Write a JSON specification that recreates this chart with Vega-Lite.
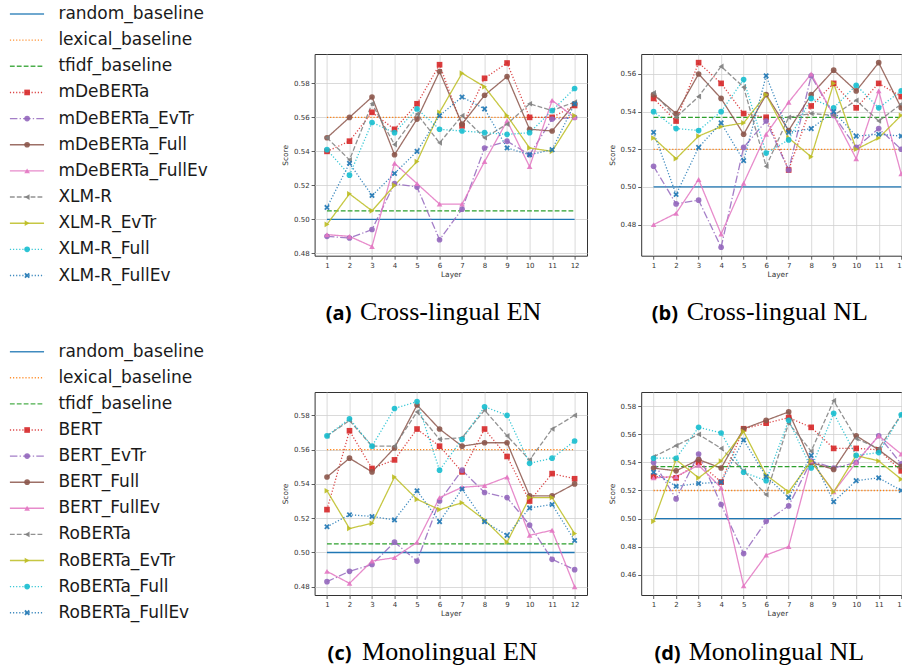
{
"$schema": "https://vega.github.io/schema/vega-lite/v6.json",
"background": "white",
"padding": {"left": 0, "top": 5, "right": 0, "bottom": 0},
"columns": 3,
"spacing": {"row": 136, "column": 53.6},
"bounds": "flush",
"resolve": {"scale": {"color": "independent", "shape": "independent", "strokeDash": "independent", "x": "independent", "y": "independent"}},
"config": {
  "font": "DejaVu Sans",
  "view": {"stroke": "#333333", "strokeWidth": 1},
  "axis": {"labelFont": "DejaVu Sans", "labelFontSize": 7, "labelColor": "#333333", "titleFont": "DejaVu Sans", "titleFontSize": 7.4, "titleFontWeight": "normal", "titleColor": "#333333", "tickColor": "#333333", "tickSize": 3.5, "tickWidth": 0.8, "domain": false, "gridColor": "#d0d0d0", "gridWidth": 0.8, "labelFlush": false, "labelOverlap": false, "labelPadding": 2, "tickCount": 30}
},
"datasets": {
  "legendTop": [{"series": "random_baseline"}, {"series": "lexical_baseline"}, {"series": "tfidf_baseline"}, {"series": "mDeBERTa"}, {"series": "mDeBERTa_EvTr"}, {"series": "mDeBERTa_Full"}, {"series": "mDeBERTa_FullEv"}, {"series": "XLM-R"}, {"series": "XLM-R_EvTr"}, {"series": "XLM-R_Full"}, {"series": "XLM-R_FullEv"}],
  "legendBottom": [{"series": "random_baseline"}, {"series": "lexical_baseline"}, {"series": "tfidf_baseline"}, {"series": "BERT"}, {"series": "BERT_EvTr"}, {"series": "BERT_Full"}, {"series": "BERT_FullEv"}, {"series": "RoBERTa"}, {"series": "RoBERTa_EvTr"}, {"series": "RoBERTa_Full"}, {"series": "RoBERTa_FullEv"}],
  "baseEN": [{"series": "random_baseline", "layer": 1, "score": 0.5}, {"series": "random_baseline", "layer": 12, "score": 0.5}, {"series": "lexical_baseline", "layer": 1, "score": 0.56}, {"series": "lexical_baseline", "layer": 12, "score": 0.56}, {"series": "tfidf_baseline", "layer": 1, "score": 0.505}, {"series": "tfidf_baseline", "layer": 12, "score": 0.505}],
  "baseNL": [{"series": "random_baseline", "layer": 1, "score": 0.5}, {"series": "random_baseline", "layer": 12, "score": 0.5}, {"series": "lexical_baseline", "layer": 1, "score": 0.52}, {"series": "lexical_baseline", "layer": 12, "score": 0.52}, {"series": "tfidf_baseline", "layer": 1, "score": 0.537}, {"series": "tfidf_baseline", "layer": 12, "score": 0.537}],
  "a": [
    {"series": "mDeBERTa", "layer": 1, "score": 0.540}, {"series": "mDeBERTa", "layer": 2, "score": 0.546}, {"series": "mDeBERTa", "layer": 3, "score": 0.563}, {"series": "mDeBERTa", "layer": 4, "score": 0.553}, {"series": "mDeBERTa", "layer": 5, "score": 0.568}, {"series": "mDeBERTa", "layer": 6, "score": 0.591}, {"series": "mDeBERTa", "layer": 7, "score": 0.555}, {"series": "mDeBERTa", "layer": 8, "score": 0.583}, {"series": "mDeBERTa", "layer": 9, "score": 0.592}, {"series": "mDeBERTa", "layer": 10, "score": 0.560}, {"series": "mDeBERTa", "layer": 11, "score": 0.560}, {"series": "mDeBERTa", "layer": 12, "score": 0.567},
    {"series": "mDeBERTa_EvTr", "layer": 1, "score": 0.490}, {"series": "mDeBERTa_EvTr", "layer": 2, "score": 0.489}, {"series": "mDeBERTa_EvTr", "layer": 3, "score": 0.494}, {"series": "mDeBERTa_EvTr", "layer": 4, "score": 0.521}, {"series": "mDeBERTa_EvTr", "layer": 5, "score": 0.519}, {"series": "mDeBERTa_EvTr", "layer": 6, "score": 0.488}, {"series": "mDeBERTa_EvTr", "layer": 7, "score": 0.506}, {"series": "mDeBERTa_EvTr", "layer": 8, "score": 0.542}, {"series": "mDeBERTa_EvTr", "layer": 9, "score": 0.546}, {"series": "mDeBERTa_EvTr", "layer": 10, "score": 0.538}, {"series": "mDeBERTa_EvTr", "layer": 11, "score": 0.559}, {"series": "mDeBERTa_EvTr", "layer": 12, "score": 0.560},
    {"series": "mDeBERTa_Full", "layer": 1, "score": 0.548}, {"series": "mDeBERTa_Full", "layer": 2, "score": 0.560}, {"series": "mDeBERTa_Full", "layer": 3, "score": 0.572}, {"series": "mDeBERTa_Full", "layer": 4, "score": 0.538}, {"series": "mDeBERTa_Full", "layer": 5, "score": 0.559}, {"series": "mDeBERTa_Full", "layer": 6, "score": 0.587}, {"series": "mDeBERTa_Full", "layer": 7, "score": 0.556}, {"series": "mDeBERTa_Full", "layer": 8, "score": 0.573}, {"series": "mDeBERTa_Full", "layer": 9, "score": 0.584}, {"series": "mDeBERTa_Full", "layer": 10, "score": 0.553}, {"series": "mDeBERTa_Full", "layer": 11, "score": 0.552}, {"series": "mDeBERTa_Full", "layer": 12, "score": 0.568},
    {"series": "mDeBERTa_FullEv", "layer": 1, "score": 0.491}, {"series": "mDeBERTa_FullEv", "layer": 2, "score": 0.490}, {"series": "mDeBERTa_FullEv", "layer": 3, "score": 0.484}, {"series": "mDeBERTa_FullEv", "layer": 4, "score": 0.533}, {"series": "mDeBERTa_FullEv", "layer": 5, "score": 0.521}, {"series": "mDeBERTa_FullEv", "layer": 6, "score": 0.509}, {"series": "mDeBERTa_FullEv", "layer": 7, "score": 0.509}, {"series": "mDeBERTa_FullEv", "layer": 8, "score": 0.534}, {"series": "mDeBERTa_FullEv", "layer": 9, "score": 0.558}, {"series": "mDeBERTa_FullEv", "layer": 10, "score": 0.531}, {"series": "mDeBERTa_FullEv", "layer": 11, "score": 0.570}, {"series": "mDeBERTa_FullEv", "layer": 12, "score": 0.560},
    {"series": "XLM-R", "layer": 1, "score": 0.548}, {"series": "XLM-R", "layer": 2, "score": 0.535}, {"series": "XLM-R", "layer": 3, "score": 0.568}, {"series": "XLM-R", "layer": 4, "score": 0.544}, {"series": "XLM-R", "layer": 5, "score": 0.562}, {"series": "XLM-R", "layer": 6, "score": 0.545}, {"series": "XLM-R", "layer": 7, "score": 0.561}, {"series": "XLM-R", "layer": 8, "score": 0.548}, {"series": "XLM-R", "layer": 9, "score": 0.556}, {"series": "XLM-R", "layer": 10, "score": 0.568}, {"series": "XLM-R", "layer": 11, "score": 0.564}, {"series": "XLM-R", "layer": 12, "score": 0.569},
    {"series": "XLM-R_EvTr", "layer": 1, "score": 0.497}, {"series": "XLM-R_EvTr", "layer": 2, "score": 0.515}, {"series": "XLM-R_EvTr", "layer": 3, "score": 0.505}, {"series": "XLM-R_EvTr", "layer": 4, "score": 0.520}, {"series": "XLM-R_EvTr", "layer": 5, "score": 0.534}, {"series": "XLM-R_EvTr", "layer": 6, "score": 0.563}, {"series": "XLM-R_EvTr", "layer": 7, "score": 0.586}, {"series": "XLM-R_EvTr", "layer": 8, "score": 0.578}, {"series": "XLM-R_EvTr", "layer": 9, "score": 0.561}, {"series": "XLM-R_EvTr", "layer": 10, "score": 0.542}, {"series": "XLM-R_EvTr", "layer": 11, "score": 0.540}, {"series": "XLM-R_EvTr", "layer": 12, "score": 0.561},
    {"series": "XLM-R_Full", "layer": 1, "score": 0.541}, {"series": "XLM-R_Full", "layer": 2, "score": 0.526}, {"series": "XLM-R_Full", "layer": 3, "score": 0.557}, {"series": "XLM-R_Full", "layer": 4, "score": 0.551}, {"series": "XLM-R_Full", "layer": 5, "score": 0.565}, {"series": "XLM-R_Full", "layer": 6, "score": 0.553}, {"series": "XLM-R_Full", "layer": 7, "score": 0.552}, {"series": "XLM-R_Full", "layer": 8, "score": 0.551}, {"series": "XLM-R_Full", "layer": 9, "score": 0.550}, {"series": "XLM-R_Full", "layer": 10, "score": 0.551}, {"series": "XLM-R_Full", "layer": 11, "score": 0.564}, {"series": "XLM-R_Full", "layer": 12, "score": 0.577},
    {"series": "XLM-R_FullEv", "layer": 1, "score": 0.507}, {"series": "XLM-R_FullEv", "layer": 2, "score": 0.533}, {"series": "XLM-R_FullEv", "layer": 3, "score": 0.514}, {"series": "XLM-R_FullEv", "layer": 4, "score": 0.527}, {"series": "XLM-R_FullEv", "layer": 5, "score": 0.540}, {"series": "XLM-R_FullEv", "layer": 6, "score": 0.561}, {"series": "XLM-R_FullEv", "layer": 7, "score": 0.572}, {"series": "XLM-R_FullEv", "layer": 8, "score": 0.565}, {"series": "XLM-R_FullEv", "layer": 9, "score": 0.542}, {"series": "XLM-R_FullEv", "layer": 10, "score": 0.538}, {"series": "XLM-R_FullEv", "layer": 11, "score": 0.541}, {"series": "XLM-R_FullEv", "layer": 12, "score": 0.568}
  ],
  "b": [
    {"series": "mDeBERTa", "layer": 1, "score": 0.547}, {"series": "mDeBERTa", "layer": 2, "score": 0.535}, {"series": "mDeBERTa", "layer": 3, "score": 0.566}, {"series": "mDeBERTa", "layer": 4, "score": 0.555}, {"series": "mDeBERTa", "layer": 5, "score": 0.539}, {"series": "mDeBERTa", "layer": 6, "score": 0.537}, {"series": "mDeBERTa", "layer": 7, "score": 0.509}, {"series": "mDeBERTa", "layer": 8, "score": 0.543}, {"series": "mDeBERTa", "layer": 9, "score": 0.555}, {"series": "mDeBERTa", "layer": 10, "score": 0.542}, {"series": "mDeBERTa", "layer": 11, "score": 0.555}, {"series": "mDeBERTa", "layer": 12, "score": 0.548},
    {"series": "mDeBERTa_EvTr", "layer": 1, "score": 0.511}, {"series": "mDeBERTa_EvTr", "layer": 2, "score": 0.491}, {"series": "mDeBERTa_EvTr", "layer": 3, "score": 0.493}, {"series": "mDeBERTa_EvTr", "layer": 4, "score": 0.468}, {"series": "mDeBERTa_EvTr", "layer": 5, "score": 0.521}, {"series": "mDeBERTa_EvTr", "layer": 6, "score": 0.535}, {"series": "mDeBERTa_EvTr", "layer": 7, "score": 0.509}, {"series": "mDeBERTa_EvTr", "layer": 8, "score": 0.559}, {"series": "mDeBERTa_EvTr", "layer": 9, "score": 0.538}, {"series": "mDeBERTa_EvTr", "layer": 10, "score": 0.521}, {"series": "mDeBERTa_EvTr", "layer": 11, "score": 0.531}, {"series": "mDeBERTa_EvTr", "layer": 12, "score": 0.520},
    {"series": "mDeBERTa_Full", "layer": 1, "score": 0.549}, {"series": "mDeBERTa_Full", "layer": 2, "score": 0.539}, {"series": "mDeBERTa_Full", "layer": 3, "score": 0.560}, {"series": "mDeBERTa_Full", "layer": 4, "score": 0.547}, {"series": "mDeBERTa_Full", "layer": 5, "score": 0.528}, {"series": "mDeBERTa_Full", "layer": 6, "score": 0.549}, {"series": "mDeBERTa_Full", "layer": 7, "score": 0.530}, {"series": "mDeBERTa_Full", "layer": 8, "score": 0.549}, {"series": "mDeBERTa_Full", "layer": 9, "score": 0.562}, {"series": "mDeBERTa_Full", "layer": 10, "score": 0.551}, {"series": "mDeBERTa_Full", "layer": 11, "score": 0.566}, {"series": "mDeBERTa_Full", "layer": 12, "score": 0.542},
    {"series": "mDeBERTa_FullEv", "layer": 1, "score": 0.480}, {"series": "mDeBERTa_FullEv", "layer": 2, "score": 0.486}, {"series": "mDeBERTa_FullEv", "layer": 3, "score": 0.504}, {"series": "mDeBERTa_FullEv", "layer": 4, "score": 0.475}, {"series": "mDeBERTa_FullEv", "layer": 5, "score": 0.502}, {"series": "mDeBERTa_FullEv", "layer": 6, "score": 0.528}, {"series": "mDeBERTa_FullEv", "layer": 7, "score": 0.545}, {"series": "mDeBERTa_FullEv", "layer": 8, "score": 0.560}, {"series": "mDeBERTa_FullEv", "layer": 9, "score": 0.538}, {"series": "mDeBERTa_FullEv", "layer": 10, "score": 0.515}, {"series": "mDeBERTa_FullEv", "layer": 11, "score": 0.551}, {"series": "mDeBERTa_FullEv", "layer": 12, "score": 0.507},
    {"series": "XLM-R", "layer": 1, "score": 0.550}, {"series": "XLM-R", "layer": 2, "score": 0.537}, {"series": "XLM-R", "layer": 3, "score": 0.548}, {"series": "XLM-R", "layer": 4, "score": 0.564}, {"series": "XLM-R", "layer": 5, "score": 0.553}, {"series": "XLM-R", "layer": 6, "score": 0.511}, {"series": "XLM-R", "layer": 7, "score": 0.537}, {"series": "XLM-R", "layer": 8, "score": 0.539}, {"series": "XLM-R", "layer": 9, "score": 0.538}, {"series": "XLM-R", "layer": 10, "score": 0.546}, {"series": "XLM-R", "layer": 11, "score": 0.535}, {"series": "XLM-R", "layer": 12, "score": 0.544},
    {"series": "XLM-R_EvTr", "layer": 1, "score": 0.526}, {"series": "XLM-R_EvTr", "layer": 2, "score": 0.515}, {"series": "XLM-R_EvTr", "layer": 3, "score": 0.527}, {"series": "XLM-R_EvTr", "layer": 4, "score": 0.532}, {"series": "XLM-R_EvTr", "layer": 5, "score": 0.534}, {"series": "XLM-R_EvTr", "layer": 6, "score": 0.549}, {"series": "XLM-R_EvTr", "layer": 7, "score": 0.526}, {"series": "XLM-R_EvTr", "layer": 8, "score": 0.516}, {"series": "XLM-R_EvTr", "layer": 9, "score": 0.555}, {"series": "XLM-R_EvTr", "layer": 10, "score": 0.520}, {"series": "XLM-R_EvTr", "layer": 11, "score": 0.526}, {"series": "XLM-R_EvTr", "layer": 12, "score": 0.538},
    {"series": "XLM-R_Full", "layer": 1, "score": 0.540}, {"series": "XLM-R_Full", "layer": 2, "score": 0.531}, {"series": "XLM-R_Full", "layer": 3, "score": 0.530}, {"series": "XLM-R_Full", "layer": 4, "score": 0.540}, {"series": "XLM-R_Full", "layer": 5, "score": 0.557}, {"series": "XLM-R_Full", "layer": 6, "score": 0.518}, {"series": "XLM-R_Full", "layer": 7, "score": 0.525}, {"series": "XLM-R_Full", "layer": 8, "score": 0.547}, {"series": "XLM-R_Full", "layer": 9, "score": 0.542}, {"series": "XLM-R_Full", "layer": 10, "score": 0.554}, {"series": "XLM-R_Full", "layer": 11, "score": 0.542}, {"series": "XLM-R_Full", "layer": 12, "score": 0.551},
    {"series": "XLM-R_FullEv", "layer": 1, "score": 0.529}, {"series": "XLM-R_FullEv", "layer": 2, "score": 0.496}, {"series": "XLM-R_FullEv", "layer": 3, "score": 0.521}, {"series": "XLM-R_FullEv", "layer": 4, "score": 0.534}, {"series": "XLM-R_FullEv", "layer": 5, "score": 0.514}, {"series": "XLM-R_FullEv", "layer": 6, "score": 0.559}, {"series": "XLM-R_FullEv", "layer": 7, "score": 0.529}, {"series": "XLM-R_FullEv", "layer": 8, "score": 0.531}, {"series": "XLM-R_FullEv", "layer": 9, "score": 0.540}, {"series": "XLM-R_FullEv", "layer": 10, "score": 0.527}, {"series": "XLM-R_FullEv", "layer": 11, "score": 0.528}, {"series": "XLM-R_FullEv", "layer": 12, "score": 0.527}
  ],
  "c": [
    {"series": "BERT", "layer": 1, "score": 0.525}, {"series": "BERT", "layer": 2, "score": 0.571}, {"series": "BERT", "layer": 3, "score": 0.549}, {"series": "BERT", "layer": 4, "score": 0.554}, {"series": "BERT", "layer": 5, "score": 0.572}, {"series": "BERT", "layer": 6, "score": 0.562}, {"series": "BERT", "layer": 7, "score": 0.547}, {"series": "BERT", "layer": 8, "score": 0.572}, {"series": "BERT", "layer": 9, "score": 0.556}, {"series": "BERT", "layer": 10, "score": 0.530}, {"series": "BERT", "layer": 11, "score": 0.546}, {"series": "BERT", "layer": 12, "score": 0.543},
    {"series": "BERT_EvTr", "layer": 1, "score": 0.483}, {"series": "BERT_EvTr", "layer": 2, "score": 0.489}, {"series": "BERT_EvTr", "layer": 3, "score": 0.493}, {"series": "BERT_EvTr", "layer": 4, "score": 0.506}, {"series": "BERT_EvTr", "layer": 5, "score": 0.495}, {"series": "BERT_EvTr", "layer": 6, "score": 0.530}, {"series": "BERT_EvTr", "layer": 7, "score": 0.548}, {"series": "BERT_EvTr", "layer": 8, "score": 0.535}, {"series": "BERT_EvTr", "layer": 9, "score": 0.532}, {"series": "BERT_EvTr", "layer": 10, "score": 0.516}, {"series": "BERT_EvTr", "layer": 11, "score": 0.496}, {"series": "BERT_EvTr", "layer": 12, "score": 0.490},
    {"series": "BERT_Full", "layer": 1, "score": 0.544}, {"series": "BERT_Full", "layer": 2, "score": 0.555}, {"series": "BERT_Full", "layer": 3, "score": 0.547}, {"series": "BERT_Full", "layer": 4, "score": 0.561}, {"series": "BERT_Full", "layer": 5, "score": 0.586}, {"series": "BERT_Full", "layer": 6, "score": 0.572}, {"series": "BERT_Full", "layer": 7, "score": 0.562}, {"series": "BERT_Full", "layer": 8, "score": 0.564}, {"series": "BERT_Full", "layer": 9, "score": 0.564}, {"series": "BERT_Full", "layer": 10, "score": 0.533}, {"series": "BERT_Full", "layer": 11, "score": 0.533}, {"series": "BERT_Full", "layer": 12, "score": 0.540},
    {"series": "BERT_FullEv", "layer": 1, "score": 0.489}, {"series": "BERT_FullEv", "layer": 2, "score": 0.482}, {"series": "BERT_FullEv", "layer": 3, "score": 0.495}, {"series": "BERT_FullEv", "layer": 4, "score": 0.497}, {"series": "BERT_FullEv", "layer": 5, "score": 0.506}, {"series": "BERT_FullEv", "layer": 6, "score": 0.532}, {"series": "BERT_FullEv", "layer": 7, "score": 0.538}, {"series": "BERT_FullEv", "layer": 8, "score": 0.539}, {"series": "BERT_FullEv", "layer": 9, "score": 0.544}, {"series": "BERT_FullEv", "layer": 10, "score": 0.510}, {"series": "BERT_FullEv", "layer": 11, "score": 0.513}, {"series": "BERT_FullEv", "layer": 12, "score": 0.480},
    {"series": "RoBERTa", "layer": 1, "score": 0.568}, {"series": "RoBERTa", "layer": 2, "score": 0.577}, {"series": "RoBERTa", "layer": 3, "score": 0.562}, {"series": "RoBERTa", "layer": 4, "score": 0.562}, {"series": "RoBERTa", "layer": 5, "score": 0.582}, {"series": "RoBERTa", "layer": 6, "score": 0.566}, {"series": "RoBERTa", "layer": 7, "score": 0.567}, {"series": "RoBERTa", "layer": 8, "score": 0.583}, {"series": "RoBERTa", "layer": 9, "score": 0.568}, {"series": "RoBERTa", "layer": 10, "score": 0.554}, {"series": "RoBERTa", "layer": 11, "score": 0.572}, {"series": "RoBERTa", "layer": 12, "score": 0.580},
    {"series": "RoBERTa_EvTr", "layer": 1, "score": 0.536}, {"series": "RoBERTa_EvTr", "layer": 2, "score": 0.514}, {"series": "RoBERTa_EvTr", "layer": 3, "score": 0.517}, {"series": "RoBERTa_EvTr", "layer": 4, "score": 0.544}, {"series": "RoBERTa_EvTr", "layer": 5, "score": 0.531}, {"series": "RoBERTa_EvTr", "layer": 6, "score": 0.525}, {"series": "RoBERTa_EvTr", "layer": 7, "score": 0.529}, {"series": "RoBERTa_EvTr", "layer": 8, "score": 0.519}, {"series": "RoBERTa_EvTr", "layer": 9, "score": 0.506}, {"series": "RoBERTa_EvTr", "layer": 10, "score": 0.532}, {"series": "RoBERTa_EvTr", "layer": 11, "score": 0.532}, {"series": "RoBERTa_EvTr", "layer": 12, "score": 0.511},
    {"series": "RoBERTa_Full", "layer": 1, "score": 0.568}, {"series": "RoBERTa_Full", "layer": 2, "score": 0.578}, {"series": "RoBERTa_Full", "layer": 3, "score": 0.562}, {"series": "RoBERTa_Full", "layer": 4, "score": 0.584}, {"series": "RoBERTa_Full", "layer": 5, "score": 0.588}, {"series": "RoBERTa_Full", "layer": 6, "score": 0.548}, {"series": "RoBERTa_Full", "layer": 7, "score": 0.566}, {"series": "RoBERTa_Full", "layer": 8, "score": 0.585}, {"series": "RoBERTa_Full", "layer": 9, "score": 0.580}, {"series": "RoBERTa_Full", "layer": 10, "score": 0.552}, {"series": "RoBERTa_Full", "layer": 11, "score": 0.555}, {"series": "RoBERTa_Full", "layer": 12, "score": 0.565},
    {"series": "RoBERTa_FullEv", "layer": 1, "score": 0.515}, {"series": "RoBERTa_FullEv", "layer": 2, "score": 0.522}, {"series": "RoBERTa_FullEv", "layer": 3, "score": 0.521}, {"series": "RoBERTa_FullEv", "layer": 4, "score": 0.519}, {"series": "RoBERTa_FullEv", "layer": 5, "score": 0.536}, {"series": "RoBERTa_FullEv", "layer": 6, "score": 0.518}, {"series": "RoBERTa_FullEv", "layer": 7, "score": 0.537}, {"series": "RoBERTa_FullEv", "layer": 8, "score": 0.518}, {"series": "RoBERTa_FullEv", "layer": 9, "score": 0.510}, {"series": "RoBERTa_FullEv", "layer": 10, "score": 0.526}, {"series": "RoBERTa_FullEv", "layer": 11, "score": 0.528}, {"series": "RoBERTa_FullEv", "layer": 12, "score": 0.507}
  ],
  "d": [
    {"series": "BERT", "layer": 1, "score": 0.530}, {"series": "BERT", "layer": 2, "score": 0.529}, {"series": "BERT", "layer": 3, "score": 0.540}, {"series": "BERT", "layer": 4, "score": 0.526}, {"series": "BERT", "layer": 5, "score": 0.564}, {"series": "BERT", "layer": 6, "score": 0.568}, {"series": "BERT", "layer": 7, "score": 0.572}, {"series": "BERT", "layer": 8, "score": 0.565}, {"series": "BERT", "layer": 9, "score": 0.550}, {"series": "BERT", "layer": 10, "score": 0.550}, {"series": "BERT", "layer": 11, "score": 0.549}, {"series": "BERT", "layer": 12, "score": 0.534},
    {"series": "BERT_EvTr", "layer": 1, "score": 0.540}, {"series": "BERT_EvTr", "layer": 2, "score": 0.514}, {"series": "BERT_EvTr", "layer": 3, "score": 0.546}, {"series": "BERT_EvTr", "layer": 4, "score": 0.510}, {"series": "BERT_EvTr", "layer": 5, "score": 0.475}, {"series": "BERT_EvTr", "layer": 6, "score": 0.498}, {"series": "BERT_EvTr", "layer": 7, "score": 0.509}, {"series": "BERT_EvTr", "layer": 8, "score": 0.541}, {"series": "BERT_EvTr", "layer": 9, "score": 0.536}, {"series": "BERT_EvTr", "layer": 10, "score": 0.540}, {"series": "BERT_EvTr", "layer": 11, "score": 0.559}, {"series": "BERT_EvTr", "layer": 12, "score": 0.539},
    {"series": "BERT_Full", "layer": 1, "score": 0.536}, {"series": "BERT_Full", "layer": 2, "score": 0.534}, {"series": "BERT_Full", "layer": 3, "score": 0.542}, {"series": "BERT_Full", "layer": 4, "score": 0.536}, {"series": "BERT_Full", "layer": 5, "score": 0.564}, {"series": "BERT_Full", "layer": 6, "score": 0.570}, {"series": "BERT_Full", "layer": 7, "score": 0.576}, {"series": "BERT_Full", "layer": 8, "score": 0.540}, {"series": "BERT_Full", "layer": 9, "score": 0.535}, {"series": "BERT_Full", "layer": 10, "score": 0.559}, {"series": "BERT_Full", "layer": 11, "score": 0.549}, {"series": "BERT_Full", "layer": 12, "score": 0.537},
    {"series": "BERT_FullEv", "layer": 1, "score": 0.529}, {"series": "BERT_FullEv", "layer": 2, "score": 0.530}, {"series": "BERT_FullEv", "layer": 3, "score": 0.538}, {"series": "BERT_FullEv", "layer": 4, "score": 0.522}, {"series": "BERT_FullEv", "layer": 5, "score": 0.452}, {"series": "BERT_FullEv", "layer": 6, "score": 0.474}, {"series": "BERT_FullEv", "layer": 7, "score": 0.480}, {"series": "BERT_FullEv", "layer": 8, "score": 0.541}, {"series": "BERT_FullEv", "layer": 9, "score": 0.519}, {"series": "BERT_FullEv", "layer": 10, "score": 0.540}, {"series": "BERT_FullEv", "layer": 11, "score": 0.559}, {"series": "BERT_FullEv", "layer": 12, "score": 0.546},
    {"series": "RoBERTa", "layer": 1, "score": 0.544}, {"series": "RoBERTa", "layer": 2, "score": 0.552}, {"series": "RoBERTa", "layer": 3, "score": 0.560}, {"series": "RoBERTa", "layer": 4, "score": 0.550}, {"series": "RoBERTa", "layer": 5, "score": 0.534}, {"series": "RoBERTa", "layer": 6, "score": 0.517}, {"series": "RoBERTa", "layer": 7, "score": 0.568}, {"series": "RoBERTa", "layer": 8, "score": 0.548}, {"series": "RoBERTa", "layer": 9, "score": 0.584}, {"series": "RoBERTa", "layer": 10, "score": 0.557}, {"series": "RoBERTa", "layer": 11, "score": 0.550}, {"series": "RoBERTa", "layer": 12, "score": 0.574},
    {"series": "RoBERTa_EvTr", "layer": 1, "score": 0.498}, {"series": "RoBERTa_EvTr", "layer": 2, "score": 0.542}, {"series": "RoBERTa_EvTr", "layer": 3, "score": 0.529}, {"series": "RoBERTa_EvTr", "layer": 4, "score": 0.541}, {"series": "RoBERTa_EvTr", "layer": 5, "score": 0.562}, {"series": "RoBERTa_EvTr", "layer": 6, "score": 0.531}, {"series": "RoBERTa_EvTr", "layer": 7, "score": 0.519}, {"series": "RoBERTa_EvTr", "layer": 8, "score": 0.541}, {"series": "RoBERTa_EvTr", "layer": 9, "score": 0.519}, {"series": "RoBERTa_EvTr", "layer": 10, "score": 0.545}, {"series": "RoBERTa_EvTr", "layer": 11, "score": 0.541}, {"series": "RoBERTa_EvTr", "layer": 12, "score": 0.528},
    {"series": "RoBERTa_Full", "layer": 1, "score": 0.543}, {"series": "RoBERTa_Full", "layer": 2, "score": 0.543}, {"series": "RoBERTa_Full", "layer": 3, "score": 0.565}, {"series": "RoBERTa_Full", "layer": 4, "score": 0.561}, {"series": "RoBERTa_Full", "layer": 5, "score": 0.533}, {"series": "RoBERTa_Full", "layer": 6, "score": 0.527}, {"series": "RoBERTa_Full", "layer": 7, "score": 0.570}, {"series": "RoBERTa_Full", "layer": 8, "score": 0.536}, {"series": "RoBERTa_Full", "layer": 9, "score": 0.575}, {"series": "RoBERTa_Full", "layer": 10, "score": 0.545}, {"series": "RoBERTa_Full", "layer": 11, "score": 0.547}, {"series": "RoBERTa_Full", "layer": 12, "score": 0.574},
    {"series": "RoBERTa_FullEv", "layer": 1, "score": 0.533}, {"series": "RoBERTa_FullEv", "layer": 2, "score": 0.523}, {"series": "RoBERTa_FullEv", "layer": 3, "score": 0.525}, {"series": "RoBERTa_FullEv", "layer": 4, "score": 0.526}, {"series": "RoBERTa_FullEv", "layer": 5, "score": 0.556}, {"series": "RoBERTa_FullEv", "layer": 6, "score": 0.530}, {"series": "RoBERTa_FullEv", "layer": 7, "score": 0.515}, {"series": "RoBERTa_FullEv", "layer": 8, "score": 0.545}, {"series": "RoBERTa_FullEv", "layer": 9, "score": 0.512}, {"series": "RoBERTa_FullEv", "layer": 10, "score": 0.527}, {"series": "RoBERTa_FullEv", "layer": 11, "score": 0.529}, {"series": "RoBERTa_FullEv", "layer": 12, "score": 0.520}
  ]
},
"concat": [
  {
    "width": 260.7, "height": 201.7,
    "view": {"stroke": null},
    "data": {"name": "legendTop"},
    "layer": [
      {"mark": {"type": "rule", "strokeWidth": 1.4, "opacity": 0.85},
       "encoding": {
         "x": {"datum": 3.8, "type": "quantitative", "scale": {"domain": [0, 100], "nice": false}, "axis": null},
         "x2": {"datum": 16.9},
         "y": {"field": "series", "type": "nominal", "scale": {"type": "point", "domain": ["random_baseline", "lexical_baseline", "tfidf_baseline", "mDeBERTa", "mDeBERTa_EvTr", "mDeBERTa_Full", "mDeBERTa_FullEv", "XLM-R", "XLM-R_EvTr", "XLM-R_Full", "XLM-R_FullEv"], "range": [-40, 221.5], "padding": 0}, "axis": null},
         "color": {"field": "series", "type": "nominal", "scale": {"domain": ["random_baseline", "lexical_baseline", "tfidf_baseline", "mDeBERTa", "mDeBERTa_EvTr", "mDeBERTa_Full", "mDeBERTa_FullEv", "XLM-R", "XLM-R_EvTr", "XLM-R_Full", "XLM-R_FullEv"], "range": ["#1f77b4", "#ff7f0e", "#2ca02c", "#d62728", "#9467bd", "#8c564b", "#e377c2", "#7f7f7f", "#bcbd22", "#17becf", "#1f77b4"]}, "legend": null},
         "strokeDash": {"field": "series", "type": "nominal", "scale": {"domain": ["random_baseline", "lexical_baseline", "tfidf_baseline", "mDeBERTa", "mDeBERTa_EvTr", "mDeBERTa_Full", "mDeBERTa_FullEv", "XLM-R", "XLM-R_EvTr", "XLM-R_Full", "XLM-R_FullEv"], "range": [[1, 0], [1.2, 1.9], [4.8, 2.1], [1.2, 1.9], [7.5, 2.2, 1.3, 2.2], [1, 0], [1, 0], [4.8, 2.1], [1, 0], [1.2, 1.9], [1.2, 1.9]]}, "legend": null}
       }},
      {"transform": [{"filter": {"not": {"field": "series", "oneOf": ["random_baseline", "lexical_baseline", "tfidf_baseline"]}}}],
       "mark": {"type": "point", "filled": true, "size": 32, "opacity": 0.9},
       "encoding": {
         "x": {"datum": 10.4, "type": "quantitative"},
         "y": {"field": "series", "type": "nominal"},
         "color": {"field": "series", "type": "nominal", "legend": null},
         "shape": {"field": "series", "type": "nominal", "scale": {"domain": ["mDeBERTa", "mDeBERTa_EvTr", "mDeBERTa_Full", "mDeBERTa_FullEv", "XLM-R", "XLM-R_EvTr", "XLM-R_Full", "XLM-R_FullEv"], "range": ["square", "circle", "circle", "triangle-up", "triangle-left", "triangle-right", "circle", "M-1,-0.55L-0.55,-1L0,-0.45L0.55,-1L1,-0.55L0.45,0L1,0.55L0.55,1L0,0.45L-0.55,1L-1,0.55L-0.45,0Z"]}, "legend": null}
       }},
      {"mark": {"type": "text", "align": "left", "baseline": "middle", "font": "DejaVu Sans", "fontSize": 17, "color": "#1a1a1a"},
       "encoding": {
         "x": {"datum": 22.4, "type": "quantitative"},
         "y": {"field": "series", "type": "nominal"},
         "text": {"field": "series"}
       }}
    ]
  },
  {
    "width": 272.4, "height": 201.7,
    "data": {"name": "a"},
    "layer": [
      {"layer": [
        {"data": {"name": "baseEN"},
         "mark": {"type": "line", "strokeWidth": 1.3},
         "encoding": {
           "x": {"field": "layer", "type": "quantitative", "scale": {"domain": [0.45, 12.55], "nice": false, "zero": false}, "axis": {"values": [1, 2, 3, 4, 5, 6, 7, 8, 9, 10, 11, 12], "format": "d", "tickCount": 30, "title": "Layer", "grid": true, "titlePadding": 2, "labelOverlap": false}},
           "y": {"field": "score", "type": "quantitative", "scale": {"domain": [0.4786, 0.5973], "nice": false, "zero": false}, "axis": {"values": [0.48, 0.5, 0.52, 0.54, 0.56, 0.58], "tickCount": 30, "format": ".2f", "title": "Score", "grid": true, "titlePadding": 4, "labelOverlap": false}},
           "color": {"field": "series", "type": "nominal", "scale": {"domain": ["random_baseline", "lexical_baseline", "tfidf_baseline", "mDeBERTa", "mDeBERTa_EvTr", "mDeBERTa_Full", "mDeBERTa_FullEv", "XLM-R", "XLM-R_EvTr", "XLM-R_Full", "XLM-R_FullEv"], "range": ["#1f77b4", "#ff7f0e", "#2ca02c", "#d62728", "#9467bd", "#8c564b", "#e377c2", "#7f7f7f", "#bcbd22", "#17becf", "#1f77b4"]}, "legend": null},
           "strokeDash": {"field": "series", "type": "nominal", "scale": {"domain": ["random_baseline", "lexical_baseline", "tfidf_baseline", "mDeBERTa", "mDeBERTa_EvTr", "mDeBERTa_Full", "mDeBERTa_FullEv", "XLM-R", "XLM-R_EvTr", "XLM-R_Full", "XLM-R_FullEv"], "range": [[1, 0], [1.2, 1.9], [4.8, 2.1], [1.2, 1.9], [7.5, 2.2, 1.3, 2.2], [1, 0], [1, 0], [4.8, 2.1], [1, 0], [1.2, 1.9], [1.2, 1.9]]}, "legend": null}
         }},
        {"mark": {"type": "line", "strokeWidth": 1.3, "opacity": 0.85},
         "encoding": {
           "x": {"field": "layer", "type": "quantitative"},
           "y": {"field": "score", "type": "quantitative"},
           "color": {"field": "series", "type": "nominal", "legend": null},
           "strokeDash": {"field": "series", "type": "nominal", "legend": null}
         }}
      ]},
      {"mark": {"type": "point", "filled": true, "size": 32, "opacity": 0.9},
       "encoding": {
         "x": {"field": "layer", "type": "quantitative", "scale": {"domain": [0.45, 12.55], "nice": false, "zero": false}, "axis": {"orient": "top", "labels": false, "ticks": false, "grid": false, "domain": false, "title": "Cross-lingual EN", "titleFont": "Liberation Serif", "titleFontSize": 26, "titleFontWeight": "normal", "titleColor": "#000000", "titleAngle": 0, "titleAlign": "left", "titleBaseline": "alphabetic", "titleX": 45, "titleY": 265.7}},
         "y": {"field": "score", "type": "quantitative", "scale": {"domain": [0.4786, 0.5973], "nice": false, "zero": false}, "axis": {"orient": "right", "labels": false, "ticks": false, "grid": false, "domain": false, "title": "(a)", "titleFont": "Open Sans", "titleFontSize": 20, "titleFontWeight": "bold", "titleColor": "#000000", "titleAngle": 0, "titleAlign": "left", "titleBaseline": "alphabetic", "titleX": -261.7, "titleY": 265.7}},
         "color": {"field": "series", "type": "nominal", "legend": null},
         "shape": {"field": "series", "type": "nominal", "scale": {"domain": ["mDeBERTa", "mDeBERTa_EvTr", "mDeBERTa_Full", "mDeBERTa_FullEv", "XLM-R", "XLM-R_EvTr", "XLM-R_Full", "XLM-R_FullEv"], "range": ["square", "circle", "circle", "triangle-up", "triangle-left", "triangle-right", "circle", "M-1,-0.55L-0.55,-1L0,-0.45L0.55,-1L1,-0.55L0.45,0L1,0.55L0.55,1L0,0.45L-0.55,1L-1,0.55L-0.45,0Z"]}, "legend": null}
       }}
    ],
    "resolve": {"scale": {"x": "independent", "y": "independent"}}
  },
  {
    "width": 272.4, "height": 201.7,
    "data": {"name": "b"},
    "layer": [
      {"layer": [
        {"data": {"name": "baseNL"},
         "mark": {"type": "line", "strokeWidth": 1.3},
         "encoding": {
           "x": {"field": "layer", "type": "quantitative", "scale": {"domain": [0.45, 12.55], "nice": false, "zero": false}, "axis": {"values": [1, 2, 3, 4, 5, 6, 7, 8, 9, 10, 11, 12], "format": "d", "tickCount": 30, "title": "Layer", "grid": true, "titlePadding": 2, "labelOverlap": false}},
           "y": {"field": "score", "type": "quantitative", "scale": {"domain": [0.4635, 0.5706], "nice": false, "zero": false}, "axis": {"values": [0.48, 0.5, 0.52, 0.54, 0.56], "tickCount": 30, "format": ".2f", "title": "Score", "grid": true, "titlePadding": 4, "labelOverlap": false}},
           "color": {"field": "series", "type": "nominal", "scale": {"domain": ["random_baseline", "lexical_baseline", "tfidf_baseline", "mDeBERTa", "mDeBERTa_EvTr", "mDeBERTa_Full", "mDeBERTa_FullEv", "XLM-R", "XLM-R_EvTr", "XLM-R_Full", "XLM-R_FullEv"], "range": ["#1f77b4", "#ff7f0e", "#2ca02c", "#d62728", "#9467bd", "#8c564b", "#e377c2", "#7f7f7f", "#bcbd22", "#17becf", "#1f77b4"]}, "legend": null},
           "strokeDash": {"field": "series", "type": "nominal", "scale": {"domain": ["random_baseline", "lexical_baseline", "tfidf_baseline", "mDeBERTa", "mDeBERTa_EvTr", "mDeBERTa_Full", "mDeBERTa_FullEv", "XLM-R", "XLM-R_EvTr", "XLM-R_Full", "XLM-R_FullEv"], "range": [[1, 0], [1.2, 1.9], [4.8, 2.1], [1.2, 1.9], [7.5, 2.2, 1.3, 2.2], [1, 0], [1, 0], [4.8, 2.1], [1, 0], [1.2, 1.9], [1.2, 1.9]]}, "legend": null}
         }},
        {"mark": {"type": "line", "strokeWidth": 1.3, "opacity": 0.85},
         "encoding": {
           "x": {"field": "layer", "type": "quantitative"},
           "y": {"field": "score", "type": "quantitative"},
           "color": {"field": "series", "type": "nominal", "legend": null},
           "strokeDash": {"field": "series", "type": "nominal", "legend": null}
         }}
      ]},
      {"mark": {"type": "point", "filled": true, "size": 32, "opacity": 0.9},
       "encoding": {
         "x": {"field": "layer", "type": "quantitative", "scale": {"domain": [0.45, 12.55], "nice": false, "zero": false}, "axis": {"orient": "top", "labels": false, "ticks": false, "grid": false, "domain": false, "title": "Cross-lingual NL", "titleFont": "Liberation Serif", "titleFontSize": 26, "titleFontWeight": "normal", "titleColor": "#000000", "titleAngle": 0, "titleAlign": "left", "titleBaseline": "alphabetic", "titleX": 45, "titleY": 265.7}},
         "y": {"field": "score", "type": "quantitative", "scale": {"domain": [0.4635, 0.5706], "nice": false, "zero": false}, "axis": {"orient": "right", "labels": false, "ticks": false, "grid": false, "domain": false, "title": "(b)", "titleFont": "Open Sans", "titleFontSize": 20, "titleFontWeight": "bold", "titleColor": "#000000", "titleAngle": 0, "titleAlign": "left", "titleBaseline": "alphabetic", "titleX": -262.4, "titleY": 265.7}},
         "color": {"field": "series", "type": "nominal", "legend": null},
         "shape": {"field": "series", "type": "nominal", "scale": {"domain": ["mDeBERTa", "mDeBERTa_EvTr", "mDeBERTa_Full", "mDeBERTa_FullEv", "XLM-R", "XLM-R_EvTr", "XLM-R_Full", "XLM-R_FullEv"], "range": ["square", "circle", "circle", "triangle-up", "triangle-left", "triangle-right", "circle", "M-1,-0.55L-0.55,-1L0,-0.45L0.55,-1L1,-0.55L0.45,0L1,0.55L0.55,1L0,0.45L-0.55,1L-1,0.55L-0.45,0Z"]}, "legend": null}
       }}
    ],
    "resolve": {"scale": {"x": "independent", "y": "independent"}}
  },
  {
    "width": 260.7, "height": 203,
    "view": {"stroke": null},
    "data": {"name": "legendBottom"},
    "layer": [
      {"mark": {"type": "rule", "strokeWidth": 1.4, "opacity": 0.85},
       "encoding": {
         "x": {"datum": 3.8, "type": "quantitative", "scale": {"domain": [0, 100], "nice": false}, "axis": null},
         "x2": {"datum": 16.9},
         "y": {"field": "series", "type": "nominal", "scale": {"type": "point", "domain": ["random_baseline", "lexical_baseline", "tfidf_baseline", "BERT", "BERT_EvTr", "BERT_Full", "BERT_FullEv", "RoBERTa", "RoBERTa_EvTr", "RoBERTa_Full", "RoBERTa_FullEv"], "range": [-40.3, 220.7], "padding": 0}, "axis": null},
         "color": {"field": "series", "type": "nominal", "scale": {"domain": ["random_baseline", "lexical_baseline", "tfidf_baseline", "BERT", "BERT_EvTr", "BERT_Full", "BERT_FullEv", "RoBERTa", "RoBERTa_EvTr", "RoBERTa_Full", "RoBERTa_FullEv"], "range": ["#1f77b4", "#ff7f0e", "#2ca02c", "#d62728", "#9467bd", "#8c564b", "#e377c2", "#7f7f7f", "#bcbd22", "#17becf", "#1f77b4"]}, "legend": null},
         "strokeDash": {"field": "series", "type": "nominal", "scale": {"domain": ["random_baseline", "lexical_baseline", "tfidf_baseline", "BERT", "BERT_EvTr", "BERT_Full", "BERT_FullEv", "RoBERTa", "RoBERTa_EvTr", "RoBERTa_Full", "RoBERTa_FullEv"], "range": [[1, 0], [1.2, 1.9], [4.8, 2.1], [1.2, 1.9], [7.5, 2.2, 1.3, 2.2], [1, 0], [1, 0], [4.8, 2.1], [1, 0], [1.2, 1.9], [1.2, 1.9]]}, "legend": null}
       }},
      {"transform": [{"filter": {"not": {"field": "series", "oneOf": ["random_baseline", "lexical_baseline", "tfidf_baseline"]}}}],
       "mark": {"type": "point", "filled": true, "size": 32, "opacity": 0.9},
       "encoding": {
         "x": {"datum": 10.4, "type": "quantitative"},
         "y": {"field": "series", "type": "nominal"},
         "color": {"field": "series", "type": "nominal", "legend": null},
         "shape": {"field": "series", "type": "nominal", "scale": {"domain": ["BERT", "BERT_EvTr", "BERT_Full", "BERT_FullEv", "RoBERTa", "RoBERTa_EvTr", "RoBERTa_Full", "RoBERTa_FullEv"], "range": ["square", "circle", "circle", "triangle-up", "triangle-left", "triangle-right", "circle", "M-1,-0.55L-0.55,-1L0,-0.45L0.55,-1L1,-0.55L0.45,0L1,0.55L0.55,1L0,0.45L-0.55,1L-1,0.55L-0.45,0Z"]}, "legend": null}
       }},
      {"mark": {"type": "text", "align": "left", "baseline": "middle", "font": "DejaVu Sans", "fontSize": 17, "color": "#1a1a1a"},
       "encoding": {
         "x": {"datum": 22.4, "type": "quantitative"},
         "y": {"field": "series", "type": "nominal"},
         "text": {"field": "series"}
       }}
    ]
  },
  {
    "width": 272.4, "height": 203,
    "data": {"name": "c"},
    "layer": [
      {"layer": [
        {"data": {"name": "baseEN"},
         "mark": {"type": "line", "strokeWidth": 1.3},
         "encoding": {
           "x": {"field": "layer", "type": "quantitative", "scale": {"domain": [0.45, 12.55], "nice": false, "zero": false}, "axis": {"values": [1, 2, 3, 4, 5, 6, 7, 8, 9, 10, 11, 12], "format": "d", "tickCount": 30, "title": "Layer", "grid": true, "titlePadding": 2, "labelOverlap": false}},
           "y": {"field": "score", "type": "quantitative", "scale": {"domain": [0.4752, 0.5936], "nice": false, "zero": false}, "axis": {"values": [0.48, 0.5, 0.52, 0.54, 0.56, 0.58], "tickCount": 30, "format": ".2f", "title": "Score", "grid": true, "titlePadding": 4, "labelOverlap": false}},
           "color": {"field": "series", "type": "nominal", "scale": {"domain": ["random_baseline", "lexical_baseline", "tfidf_baseline", "BERT", "BERT_EvTr", "BERT_Full", "BERT_FullEv", "RoBERTa", "RoBERTa_EvTr", "RoBERTa_Full", "RoBERTa_FullEv"], "range": ["#1f77b4", "#ff7f0e", "#2ca02c", "#d62728", "#9467bd", "#8c564b", "#e377c2", "#7f7f7f", "#bcbd22", "#17becf", "#1f77b4"]}, "legend": null},
           "strokeDash": {"field": "series", "type": "nominal", "scale": {"domain": ["random_baseline", "lexical_baseline", "tfidf_baseline", "BERT", "BERT_EvTr", "BERT_Full", "BERT_FullEv", "RoBERTa", "RoBERTa_EvTr", "RoBERTa_Full", "RoBERTa_FullEv"], "range": [[1, 0], [1.2, 1.9], [4.8, 2.1], [1.2, 1.9], [7.5, 2.2, 1.3, 2.2], [1, 0], [1, 0], [4.8, 2.1], [1, 0], [1.2, 1.9], [1.2, 1.9]]}, "legend": null}
         }},
        {"mark": {"type": "line", "strokeWidth": 1.3, "opacity": 0.85},
         "encoding": {
           "x": {"field": "layer", "type": "quantitative"},
           "y": {"field": "score", "type": "quantitative"},
           "color": {"field": "series", "type": "nominal", "legend": null},
           "strokeDash": {"field": "series", "type": "nominal", "legend": null}
         }}
      ]},
      {"mark": {"type": "point", "filled": true, "size": 32, "opacity": 0.9},
       "encoding": {
         "x": {"field": "layer", "type": "quantitative", "scale": {"domain": [0.45, 12.55], "nice": false, "zero": false}, "axis": {"orient": "top", "labels": false, "ticks": false, "grid": false, "domain": false, "title": "Monolingual EN", "titleFont": "Liberation Serif", "titleFontSize": 26, "titleFontWeight": "normal", "titleColor": "#000000", "titleAngle": 0, "titleAlign": "left", "titleBaseline": "alphabetic", "titleX": 47, "titleY": 267}},
         "y": {"field": "score", "type": "quantitative", "scale": {"domain": [0.4752, 0.5936], "nice": false, "zero": false}, "axis": {"orient": "right", "labels": false, "ticks": false, "grid": false, "domain": false, "title": "(c)", "titleFont": "Open Sans", "titleFontSize": 20, "titleFontWeight": "bold", "titleColor": "#000000", "titleAngle": 0, "titleAlign": "left", "titleBaseline": "alphabetic", "titleX": -259.9, "titleY": 267}},
         "color": {"field": "series", "type": "nominal", "legend": null},
         "shape": {"field": "series", "type": "nominal", "scale": {"domain": ["BERT", "BERT_EvTr", "BERT_Full", "BERT_FullEv", "RoBERTa", "RoBERTa_EvTr", "RoBERTa_Full", "RoBERTa_FullEv"], "range": ["square", "circle", "circle", "triangle-up", "triangle-left", "triangle-right", "circle", "M-1,-0.55L-0.55,-1L0,-0.45L0.55,-1L1,-0.55L0.45,0L1,0.55L0.55,1L0,0.45L-0.55,1L-1,0.55L-0.45,0Z"]}, "legend": null}
       }}
    ],
    "resolve": {"scale": {"x": "independent", "y": "independent"}}
  },
  {
    "width": 272.4, "height": 203,
    "data": {"name": "d"},
    "layer": [
      {"layer": [
        {"data": {"name": "baseNL"},
         "mark": {"type": "line", "strokeWidth": 1.3},
         "encoding": {
           "x": {"field": "layer", "type": "quantitative", "scale": {"domain": [0.45, 12.55], "nice": false, "zero": false}, "axis": {"values": [1, 2, 3, 4, 5, 6, 7, 8, 9, 10, 11, 12], "format": "d", "tickCount": 30, "title": "Layer", "grid": true, "titlePadding": 2, "labelOverlap": false}},
           "y": {"field": "score", "type": "quantitative", "scale": {"domain": [0.4455, 0.5902], "nice": false, "zero": false}, "axis": {"values": [0.46, 0.48, 0.5, 0.52, 0.54, 0.56, 0.58], "tickCount": 30, "format": ".2f", "title": "Score", "grid": true, "titlePadding": 4, "labelOverlap": false}},
           "color": {"field": "series", "type": "nominal", "scale": {"domain": ["random_baseline", "lexical_baseline", "tfidf_baseline", "BERT", "BERT_EvTr", "BERT_Full", "BERT_FullEv", "RoBERTa", "RoBERTa_EvTr", "RoBERTa_Full", "RoBERTa_FullEv"], "range": ["#1f77b4", "#ff7f0e", "#2ca02c", "#d62728", "#9467bd", "#8c564b", "#e377c2", "#7f7f7f", "#bcbd22", "#17becf", "#1f77b4"]}, "legend": null},
           "strokeDash": {"field": "series", "type": "nominal", "scale": {"domain": ["random_baseline", "lexical_baseline", "tfidf_baseline", "BERT", "BERT_EvTr", "BERT_Full", "BERT_FullEv", "RoBERTa", "RoBERTa_EvTr", "RoBERTa_Full", "RoBERTa_FullEv"], "range": [[1, 0], [1.2, 1.9], [4.8, 2.1], [1.2, 1.9], [7.5, 2.2, 1.3, 2.2], [1, 0], [1, 0], [4.8, 2.1], [1, 0], [1.2, 1.9], [1.2, 1.9]]}, "legend": null}
         }},
        {"mark": {"type": "line", "strokeWidth": 1.3, "opacity": 0.85},
         "encoding": {
           "x": {"field": "layer", "type": "quantitative"},
           "y": {"field": "score", "type": "quantitative"},
           "color": {"field": "series", "type": "nominal", "legend": null},
           "strokeDash": {"field": "series", "type": "nominal", "legend": null}
         }}
      ]},
      {"mark": {"type": "point", "filled": true, "size": 32, "opacity": 0.9},
       "encoding": {
         "x": {"field": "layer", "type": "quantitative", "scale": {"domain": [0.45, 12.55], "nice": false, "zero": false}, "axis": {"orient": "top", "labels": false, "ticks": false, "grid": false, "domain": false, "title": "Monolingual NL", "titleFont": "Liberation Serif", "titleFontSize": 26, "titleFontWeight": "normal", "titleColor": "#000000", "titleAngle": 0, "titleAlign": "left", "titleBaseline": "alphabetic", "titleX": 47, "titleY": 267}},
         "y": {"field": "score", "type": "quantitative", "scale": {"domain": [0.4455, 0.5902], "nice": false, "zero": false}, "axis": {"orient": "right", "labels": false, "ticks": false, "grid": false, "domain": false, "title": "(d)", "titleFont": "Open Sans", "titleFontSize": 20, "titleFontWeight": "bold", "titleColor": "#000000", "titleAngle": 0, "titleAlign": "left", "titleBaseline": "alphabetic", "titleX": -259.7, "titleY": 267}},
         "color": {"field": "series", "type": "nominal", "legend": null},
         "shape": {"field": "series", "type": "nominal", "scale": {"domain": ["BERT", "BERT_EvTr", "BERT_Full", "BERT_FullEv", "RoBERTa", "RoBERTa_EvTr", "RoBERTa_Full", "RoBERTa_FullEv"], "range": ["square", "circle", "circle", "triangle-up", "triangle-left", "triangle-right", "circle", "M-1,-0.55L-0.55,-1L0,-0.45L0.55,-1L1,-0.55L0.45,0L1,0.55L0.55,1L0,0.45L-0.55,1L-1,0.55L-0.45,0Z"]}, "legend": null}
       }}
    ],
    "resolve": {"scale": {"x": "independent", "y": "independent"}}
  }
]
}
